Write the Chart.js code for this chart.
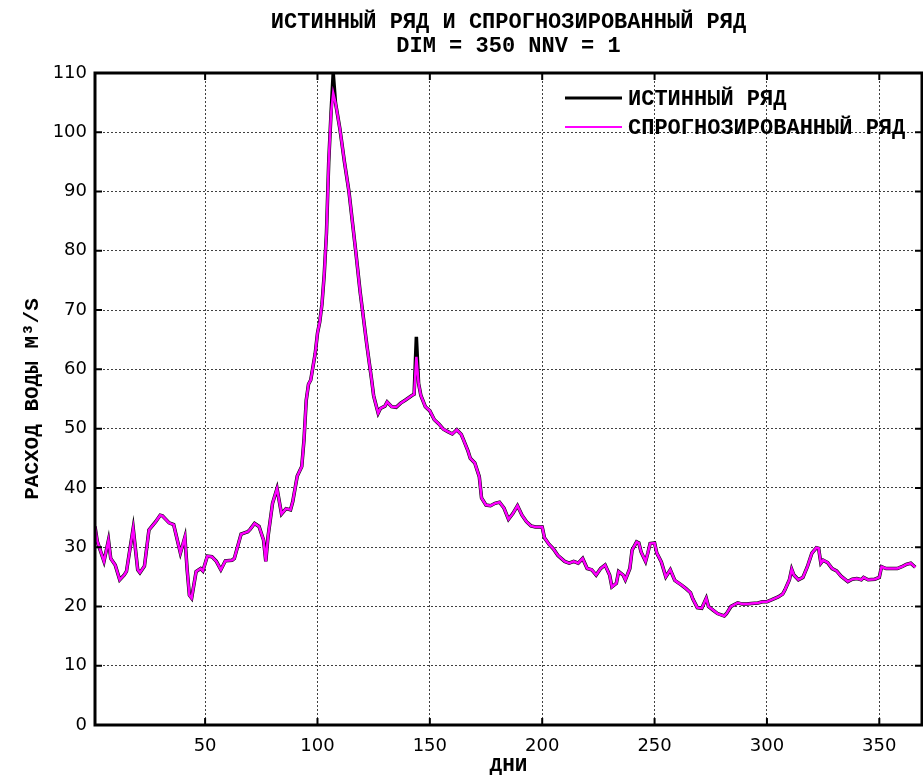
<!DOCTYPE html>
<html lang="ru">
<head>
<meta charset="utf-8">
<title>Истинный ряд и спрогнозированный ряд</title>
<script src="https://cdn.jsdelivr.net/npm/chart.js@4.4.1/dist/chart.umd.min.js"></script>
<style>
  html, body { margin: 0; padding: 0; background: #fff; }
  #wrap { width: 923px; height: 776px; position: relative; }
  canvas { display: block; }
</style>
</head>
<body>
<div id="wrap"><canvas id="flow" width="923" height="776"></canvas></div>
<script>
// Daily water discharge: observed series and one-step forecast
const days = [
  1, 2, 5, 7, 8, 10, 12, 14, 15, 18, 20, 21, 23, 25, 28, 30, 31, 34, 36, 39,
  41, 42, 43, 44, 46, 48, 49, 51, 53, 55, 57, 59, 62, 63, 66, 69, 70, 72, 74, 76,
  77, 78, 80, 82, 84, 86, 88, 89, 91, 93, 94, 95, 96, 97, 99, 100, 101, 102, 103, 104,
  105, 106, 107, 108, 110, 112, 114, 117, 119, 120, 122, 124, 125, 127, 128, 130, 131, 133, 135, 137,
  139, 142, 143, 144, 145, 146, 148, 150, 152, 154, 156, 158, 160, 162, 164, 165, 167, 168, 170, 172,
  173, 175, 177, 179, 181, 183, 185, 187, 189, 191, 193, 195, 197, 200, 201, 203, 205, 207, 210, 212,
  214, 216, 218, 220, 222, 224, 226, 228, 230, 231, 233, 234, 236, 237, 239, 240, 242, 243, 244, 246,
  247, 248, 250, 251, 253, 255, 257, 259, 262, 264, 266, 267, 269, 271, 273, 274, 276, 278, 281, 282,
  284, 287, 289, 291, 293, 296, 298, 300, 302, 305, 307, 308, 310, 311, 312, 314, 316, 318, 320, 322,
  323, 324, 325, 327, 329, 331, 333, 336, 338, 340, 342, 343, 345, 348, 350, 351, 353, 356, 358, 360,
  362, 364, 366
];

const observedFlow = [
  33.5, 31.0, 27.6, 31.2, 28.1, 27.0, 24.5, 25.3, 25.9, 33.2, 26.2, 25.7, 26.8, 32.9, 34.3, 35.4, 35.3, 34.1, 33.8, 29.0,
  31.7, 26.2, 21.9, 21.4, 25.9, 26.4, 26.0, 28.5, 28.4, 27.6, 26.2, 27.7, 27.8, 28.1, 32.2, 32.6, 33.0, 34.0, 33.5, 31.2,
  27.6, 31.8, 37.4, 39.9, 35.6, 36.5, 36.3, 37.7, 42.0, 43.6, 48.1, 54.8, 57.5, 58.2, 62.7, 66.1, 68.0, 71.0, 76.0, 83.0,
  95.0, 103.0, 110.0, 105.0, 100.5, 95.0, 90.0, 80.0, 73.0, 70.0, 64.0, 58.5, 55.5, 52.6, 53.4, 53.8, 54.5, 53.7, 53.6, 54.3,
  54.8, 55.6, 55.8, 65.5, 57.6, 55.6, 53.7, 53.0, 51.5, 50.8, 49.9, 49.5, 49.1, 49.8, 49.0, 48.1, 46.2, 45.0, 44.2, 41.9,
  38.3, 37.1, 37.0, 37.4, 37.6, 36.6, 34.7, 35.7, 37.0, 35.4, 34.3, 33.6, 33.4, 33.4, 31.6, 30.5, 29.7, 28.6, 27.6, 27.3,
  27.6, 27.3, 28.1, 26.4, 26.2, 25.3, 26.4, 27.0, 25.3, 23.3, 23.9, 25.9, 25.3, 24.5, 26.4, 29.5, 30.9, 30.7, 29.2, 27.6,
  29.0, 30.6, 30.7, 29.0, 27.5, 25.0, 26.2, 24.4, 23.6, 23.0, 22.3, 21.3, 19.8, 19.7, 21.4, 20.0, 19.4, 18.8, 18.4, 18.8,
  20.0, 20.6, 20.4, 20.4, 20.5, 20.6, 20.8, 20.8, 21.1, 21.6, 22.1, 22.8, 24.5, 26.3, 25.3, 24.5, 24.9, 26.7, 29.0, 29.9,
  29.8, 27.3, 27.8, 27.4, 26.4, 26.0, 25.1, 24.2, 24.6, 24.7, 24.5, 24.9, 24.5, 24.6, 24.9, 26.7, 26.4, 26.4, 26.4, 26.7,
  27.1, 27.3, 26.6
];

const forecastFlow = [
  33.5, 31.0, 27.6, 31.2, 28.1, 27.0, 24.5, 25.3, 25.9, 33.2, 26.2, 25.7, 26.8, 32.9, 34.3, 35.4, 35.3, 34.1, 33.8, 29.0,
  31.7, 26.2, 21.9, 21.4, 25.9, 26.4, 26.0, 28.5, 28.4, 27.6, 26.2, 27.7, 27.8, 28.1, 32.2, 32.6, 33.0, 34.0, 33.5, 31.2,
  27.6, 31.8, 37.4, 39.9, 35.6, 36.5, 36.3, 37.7, 42.0, 43.6, 48.1, 54.8, 57.5, 58.2, 62.7, 66.1, 68.0, 71.0, 76.0, 83.0,
  95.0, 103.0, 106.6, 105.0, 100.5, 95.0, 90.0, 80.0, 73.0, 70.0, 64.0, 58.5, 55.5, 52.6, 53.4, 53.8, 54.5, 53.7, 53.6, 54.3,
  54.8, 55.6, 55.8, 62.1, 57.6, 55.6, 53.7, 53.0, 51.5, 50.8, 49.9, 49.5, 49.1, 49.8, 49.0, 48.1, 46.2, 45.0, 44.2, 41.9,
  38.3, 37.1, 37.0, 37.4, 37.6, 36.6, 34.7, 35.7, 37.0, 35.4, 34.3, 33.6, 33.4, 33.4, 31.6, 30.5, 29.7, 28.6, 27.6, 27.3,
  27.6, 27.3, 28.1, 26.4, 26.2, 25.3, 26.4, 27.0, 25.3, 23.3, 23.9, 25.9, 25.3, 24.5, 26.4, 29.5, 30.9, 30.7, 29.2, 27.6,
  29.0, 30.6, 30.7, 29.0, 27.5, 25.0, 26.2, 24.4, 23.6, 23.0, 22.3, 21.3, 19.8, 19.7, 21.4, 20.0, 19.4, 18.8, 18.4, 18.8,
  20.0, 20.6, 20.4, 20.4, 20.5, 20.6, 20.8, 20.8, 21.1, 21.6, 22.1, 22.8, 24.5, 26.3, 25.3, 24.5, 24.9, 26.7, 29.0, 29.9,
  29.8, 27.3, 27.8, 27.4, 26.4, 26.0, 25.1, 24.2, 24.6, 24.7, 24.5, 24.9, 24.5, 24.6, 24.9, 26.7, 26.4, 26.4, 26.4, 26.7,
  27.1, 27.3, 26.6
];

const xTickValues = [50, 100, 150, 200, 250, 300, 350];
const yTickValues = [0, 10, 20, 30, 40, 50, 60, 70, 80, 90, 100, 110];

const titleLines = ['ИСТИННЫЙ РЯД И СПРОГНОЗИРОВАННЫЙ РЯД', 'DIM = 350 NNV = 1'];
const seriesNames = ['ИСТИННЫЙ РЯД', 'СПРОГНОЗИРОВАННЫЙ РЯД'];
const xTitle = 'ДНИ';
const yTitle = 'РАСХОД ВОДЫ М³/S';

const MONO = '"Liberation Mono", "DejaVu Sans Mono", monospace';
const SANS = '"DejaVu Sans", Verdana, sans-serif';

const toPoints = (xs, ys) => xs.map((d, i) => ({ x: d, y: ys[i] }));

// Frame, inward tick marks, titles and the in-plot legend
const decorations = {
  id: 'decorations',
  afterDatasetsDraw(chart) {
    const { ctx, chartArea: a, scales } = chart;
    const xs = scales.x, ys = scales.y;
    ctx.save();
    ctx.strokeStyle = '#000';
    ctx.lineWidth = 2;
    ctx.setLineDash([]);
    const t = 7;
    xs.ticks.forEach(tk => {
      const px = xs.getPixelForValue(tk.value);
      ctx.beginPath();
      ctx.moveTo(px, a.bottom); ctx.lineTo(px, a.bottom - t);
      ctx.moveTo(px, a.top); ctx.lineTo(px, a.top + t);
      ctx.stroke();
    });
    ys.ticks.forEach(tk => {
      const py = ys.getPixelForValue(tk.value);
      ctx.beginPath();
      ctx.moveTo(a.left, py); ctx.lineTo(a.left + t, py);
      ctx.moveTo(a.right, py); ctx.lineTo(a.right - t, py);
      ctx.stroke();
    });
    ctx.lineWidth = 3;
    ctx.strokeRect(a.left, a.top, a.right - a.left, a.bottom - a.top);

    // legend
    const ds = chart.data.datasets;
    const lx0 = a.right - 357, lx1 = a.right - 300, tx = a.right - 294;
    const rows = [a.top + 25, a.top + 54];
    [0, 1].forEach(i => {
      const d = ds[i];
      ctx.beginPath();
      ctx.strokeStyle = d.borderColor;
      ctx.lineWidth = i === 0 ? 3 : 2;
      ctx.moveTo(lx0, rows[i]); ctx.lineTo(lx1, rows[i]);
      ctx.stroke();
      ctx.fillStyle = '#000';
      ctx.font = 'bold 22px ' + MONO;
      ctx.textAlign = 'left';
      ctx.textBaseline = 'middle';
      ctx.fillText(d.label, tx, rows[i] + 1);
    });

    // title
    const cx = (a.left + a.right) / 2;
    ctx.fillStyle = '#000';
    ctx.font = 'bold 22px ' + MONO;
    ctx.textAlign = 'center';
    ctx.textBaseline = 'middle';
    ctx.fillText(titleLines[0], cx, 22);
    ctx.fillText(titleLines[1], cx, 46);

    // axis titles
    ctx.font = 'bold 21px ' + MONO;
    ctx.fillText(xTitle, cx, 766);
    ctx.save();
    ctx.translate(33, (a.top + a.bottom) / 2);
    ctx.rotate(-Math.PI / 2);
    ctx.fillText(yTitle, 0, 0);
    ctx.restore();
    ctx.restore();
  }
};

const gridStyle = {
  color: 'rgba(0,0,0,0.75)',
  lineWidth: 1,
  drawTicks: false
};

new Chart(document.getElementById('flow'), {
  type: 'line',
  data: {
    datasets: [
      {
        label: seriesNames[0],
        data: toPoints(days, observedFlow),
        borderColor: '#000000',
        borderWidth: 3.5,
        pointRadius: 0,
        tension: 0,
        order: 2
      },
      {
        label: seriesNames[1],
        data: toPoints(days, forecastFlow),
        borderColor: '#ff00ff',
        borderWidth: 2.5,
        pointRadius: 0,
        tension: 0,
        order: 1
      }
    ]
  },
  options: {
    responsive: false,
    maintainAspectRatio: false,
    animation: false,
    devicePixelRatio: 1,
    layout: { padding: { top: 73, right: 1, bottom: 0, left: 0 } },
    plugins: {
      legend: { display: false },
      title: { display: false },
      tooltip: { enabled: false }
    },
    scales: {
      x: {
        type: 'linear',
        min: 1,
        max: 369,
        afterBuildTicks: s => { s.ticks = xTickValues.map(v => ({ value: v })); },
        afterFit: s => { s.height = 51; },
        grid: gridStyle,
        border: { display: false, dash: [2, 2] },
        ticks: {
          padding: 11,
          color: '#000',
          font: { family: SANS, size: 18 },
          maxRotation: 0
        }
      },
      y: {
        type: 'linear',
        min: 0,
        max: 110,
        afterBuildTicks: s => { s.ticks = yTickValues.map(v => ({ value: v })); },
        afterFit: s => { s.width = 95; },
        grid: gridStyle,
        border: { display: false, dash: [2, 2] },
        ticks: {
          padding: 8,
          color: '#000',
          font: { family: SANS, size: 18 }
        }
      }
    }
  },
  plugins: [decorations]
});
</script>
</body>
</html>
